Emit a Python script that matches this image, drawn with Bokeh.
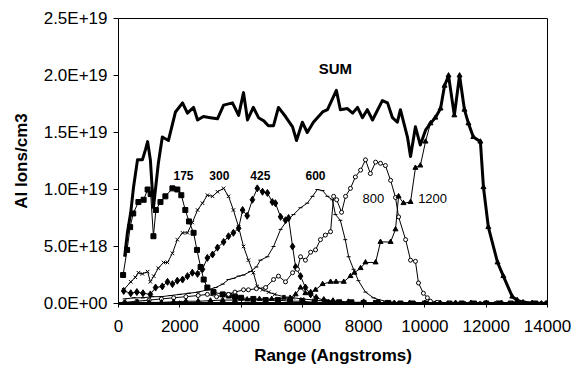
from bokeh.plotting import figure
from bokeh.models import Range1d, FixedTicker
from bokeh.core.properties import value
from bokeh.embed import file_html
from bokeh.resources import INLINE

# ---------------- data (units of 1E+18 ions/cm3) ----------------
X_TICKS = [0, 2000, 4000, 6000, 8000, 10000, 12000, 14000]
Y_TICKS = [0, 5, 10, 15, 20, 25]
Y_TICK_LABELS = ["0.0E+00", "5.0E+18", "1.0E+19", "1.5E+19", "2.0E+19", "2.5E+19"]

S175_X = [150, 280, 380, 480, 650, 820, 950, 1050, 1140, 1220, 1370, 1530, 1760, 1920,
          2050, 2180, 2300, 2450, 2560, 2680, 2780, 2900, 3100, 3400, 3600, 3800, 4000,
          4400, 4800, 5200, 5600, 6000, 6400, 6800, 7200, 7600, 8000, 8400, 8800, 9200,
          9600, 10000, 10400, 10800, 11200, 11600, 12000, 12400, 12800, 13200, 13600, 14000]
S175_Y = [2.5, 4.7, 6.7, 7.9, 8.9, 9.1, 10.0, 9.6, 5.9, 8.2, 8.9, 9.4, 10.1, 10.0,
          9.5, 8.2, 7.2, 6.2, 4.7, 3.2, 2.1, 1.4, 1.0, 0.8, 0.7, 0.6, 0.5,
          0.4, 0.3, 0.3, 0.2, 0.2, 0.1, 0.1, 0.1, 0.1, 0.05, 0.05, 0.05, 0.0,
          0.0, 0.0, 0.0, 0.0, 0.0, 0.0, 0.0, 0.0, 0.0, 0.0, 0.0, 0.0]

S300_X = [170, 400, 550, 650, 780, 950, 1040, 1150, 1300, 1470, 1600, 1760, 1920, 2090,
          2250, 2410, 2580, 2740, 2900, 3070, 3230, 3430, 3590, 3750, 3920, 4080, 4240,
          4400, 4530, 4700, 4900, 5100, 5400, 5700, 6000, 6400, 6800, 7200, 7600, 8000,
          8400, 8800, 9200, 9600, 10000, 10500, 11000, 11500, 12000, 12500, 13000, 13500, 14000]
S300_Y = [1.2, 1.9, 2.3, 2.7, 2.6, 2.8, 1.9, 2.4, 3.1, 3.6, 3.6, 4.4, 5.6, 6.2,
          6.2, 7.1, 8.2, 8.8, 9.5, 9.4, 9.8, 10.1, 9.4, 8.2, 6.7, 5.0, 3.8,
          2.7, 1.5, 1.2, 1.0, 0.8, 0.6, 0.5, 0.4, 0.3, 0.2, 0.2, 0.1, 0.1,
          0.05, 0.05, 0, 0, 0, 0, 0, 0, 0, 0, 0, 0, 0]

S425_X = [170, 400, 600, 800, 1040, 1210, 1430, 1600, 1760, 1920, 2090, 2250, 2410, 2580,
          2740, 2900, 3070, 3230, 3430, 3590, 3750, 3920, 4050, 4200, 4370, 4530, 4700,
          4860, 5020, 5120, 5290, 5450, 5550, 5680, 5780, 5940, 6100, 6270, 6450, 6700,
          7000, 7500, 8000, 8500, 9000, 9500, 10000, 10500, 11000, 11500, 12000, 12500,
          13000, 13500, 14000]
S425_Y = [1.1, 0.9, 1.0, 0.9, 0.8, 1.4, 1.5, 1.9, 1.7, 2.0, 2.1, 2.4, 2.7, 2.6,
          3.0, 4.0, 4.3, 4.9, 5.4, 5.9, 6.2, 6.6, 8.2, 7.7, 9.1, 10.1, 9.8,
          9.7, 8.9, 8.8, 7.6, 7.3, 7.5, 5.0, 3.2, 2.4, 1.4, 0.8, 0.5, 0.3,
          0.2, 0.1, 0.1, 0.05, 0, 0, 0, 0, 0, 0, 0, 0,
          0, 0, 0]

S600_X = [200, 500, 800, 1100, 1400, 1700, 2000, 2300, 2600, 2900, 3170, 3400, 3590, 3750,
          3920, 4080, 4300, 4500, 4630, 4860, 5060, 5290, 5510, 5710, 5940, 6160, 6330,
          6490, 6660, 6820, 6980, 7080, 7240, 7400, 7510, 7670, 7830, 8060, 8320, 8480,
          8700, 9000, 9500, 10000, 10500, 11000, 11500, 12000, 12500, 13000, 13500, 14000]
S600_Y = [0.4, 0.5, 0.5, 0.6, 0.6, 0.7, 0.8, 0.9, 1.0, 1.2, 1.4, 1.7, 2.1, 2.2,
          2.4, 2.5, 2.8, 3.2, 3.8, 4.1, 5.0, 6.5, 7.3, 7.8, 8.4, 8.8, 9.4,
          10.0, 9.9, 9.4, 9.1, 7.8, 7.3, 5.6, 4.1, 3.0, 2.0, 1.0, 0.5, 0.35,
          0.2, 0.1, 0.05, 0, 0, 0, 0, 0, 0, 0, 0, 0]

S800_X = [200, 600, 1000, 1400, 1800, 2200, 2600, 2900, 3200, 3590, 3800, 4080, 4240, 4500,
          4800, 5060, 5220, 5450, 5680, 5840, 5940, 6100, 6270, 6430, 6590, 6750, 6920,
          7020, 7120, 7280, 7410, 7570, 7730, 7900, 8060, 8220, 8390, 8550, 8710, 8880,
          9040, 9140, 9370, 9530, 9690, 9790, 9950, 10080, 10180, 10400, 10800, 11300,
          11800, 12300, 12800, 13300, 13800, 14000]
S800_Y = [0.1, 0.2, 0.3, 0.4, 0.5, 0.6, 0.7, 0.8, 0.6, 0.8, 1.0, 1.2, 1.2, 1.3,
          1.4, 2.1, 2.4, 1.9, 2.7, 3.0, 4.1, 3.8, 4.5, 4.7, 5.6, 6.0, 6.3,
          9.4, 9.1, 8.0, 9.4, 10.1, 11.1, 11.7, 12.6, 11.4, 12.4, 12.3, 12.1, 10.8,
          9.3, 7.6, 5.6, 3.8, 3.7, 1.8, 0.9, 0.5, 0.2, 0.1, 0, 0,
          0, 0, 0, 0, 0, 0]

S1200_X = [200, 600, 1000, 1400, 1800, 2200, 2600, 3000, 3400, 3800, 4200, 4600, 5000,
           5400, 5600, 5780, 5940, 6100, 6270, 6430, 6660, 6920, 7100, 7350, 7570, 7700,
           7900, 8060, 8390, 8550, 8880, 9040, 9140, 9300, 9530, 9690, 9850, 10020, 10180,
           10340, 10510, 10640, 10770, 10960, 11130, 11290, 11420, 11580, 11810, 11910,
           12070, 12370, 12560, 12850, 13010, 13200, 13500, 13800, 14000]
S1200_Y = [0.05, 0.1, 0.1, 0.1, 0.15, 0.2, 0.2, 0.25, 0.3, 0.3, 0.35, 0.4, 0.4,
           0.5, 0.5, 0.8, 1.4, 0.9, 1.0, 1.2, 1.7, 1.9, 1.9, 1.9, 2.4, 2.7,
           3.1, 3.6, 3.6, 5.4, 5.4, 6.5, 9.4, 8.8, 8.9, 11.9, 12.1, 14.2, 15.8,
           16.3, 17.1, 19.1, 20.0, 16.5, 20.0, 17.0, 15.8, 14.6, 14.2, 10.2,
           6.7, 3.6, 2.4, 0.6, 0.3, 0.1, 0, 0, 0]

SUM_X = [200, 290, 400, 490, 620, 780, 880, 950, 1040, 1140, 1300, 1430, 1630, 1860, 2090,
         2250, 2450, 2580, 2770, 3000, 3230, 3430, 3720, 3920, 4080, 4210, 4400, 4570, 4750,
         4890, 5060, 5220, 5450, 5680, 5810, 6000, 6160, 6360, 6660, 6820, 7110, 7240, 7470,
         7640, 7800, 7960, 8120, 8290, 8610, 8780, 8940, 9100, 9200, 9430, 9530, 9690, 9850,
         10020, 10180, 10340, 10510, 10640, 10770, 10960, 11130, 11290, 11420, 11580, 11810,
         11910, 12070, 12370, 12560, 12850, 13010, 13200, 13500, 14000]
SUM_Y = [4.1, 6.2, 8.0, 10.2, 12.6, 12.6, 13.5, 14.2, 12.6, 8.4, 12.3, 14.6, 14.3, 16.8, 17.6,
         16.7, 17.2, 16.1, 16.4, 16.3, 16.2, 17.4, 17.6, 16.5, 18.5, 16.1, 17.2, 16.3, 16.0,
         15.6, 15.6, 17.2, 16.4, 15.5, 14.3, 15.9, 15.0, 15.9, 16.8, 17.0, 18.7, 17.0, 17.1,
         16.7, 17.2, 16.3, 17.0, 16.1, 17.8, 17.6, 16.3, 15.9, 17.0, 14.6, 12.9, 15.5, 13.9,
         15.2, 15.8, 16.3, 17.1, 19.1, 20.0, 16.5, 20.0, 17.0, 15.8, 14.6, 14.2,
         10.2, 6.7, 3.6, 2.4, 0.6, 0.3, 0.1, 0.05, 0]

LABELS = ["175", "300", "425", "600", "800", "1200", "SUM"]

# ---------------- layout / style ----------------
FONT = "Liberation Sans"
LABEL_X = [2120, 3290, 4630, 6430, 8320, 10250, 7080]
LABEL_Y = [11.2, 11.2, 11.2, 11.2, 9.2, 9.2, 20.6]
LABEL_BOLD = [True, True, True, True, False, False, True]
LABEL_SIZE = ["12px", "12px", "12px", "12px", "13px", "13px", "15px"]

p = figure(width=575, height=367, output_backend="svg", toolbar_location=None,
           x_range=Range1d(0, 14000), y_range=Range1d(0, 25),
           min_border_left=118, min_border_right=28, min_border_top=18,
           min_border_bottom=63)
p.background_fill_color = "white"
p.border_fill_color = "white"
p.outline_line_color = "black"
p.outline_line_width = 1
p.xgrid.visible = False
p.ygrid.visible = False

series = [
    (S175_X, S175_Y, "square", 5, "black"),
    (S300_X, S300_Y, "x", 5, "black"),
    (S425_X, S425_Y, "diamond", 7, "black"),
    (S600_X, S600_Y, "dash", 4, "black"),
    (S800_X, S800_Y, "circle", 4, "white"),
    (S1200_X, S1200_Y, "triangle", 5, "black"),
]
for xs, ys, mk, sz, fill in series:
    p.line(xs, ys, line_color="black", line_width=1)
    p.scatter(xs, ys, marker=mk, size=sz, line_color="black", fill_color=fill,
              line_width=1)

p.line(SUM_X, SUM_Y, line_color="black", line_width=3, line_join="round")

for i, t in enumerate(LABELS):
    p.text(x=[LABEL_X[i]], y=[LABEL_Y[i]], text=[t], text_font=value(FONT),
           text_font_size=LABEL_SIZE[i],
           text_font_style="bold" if LABEL_BOLD[i] else "normal",
           text_align="center", text_baseline="middle", text_color="black")

p.xaxis.ticker = FixedTicker(ticks=X_TICKS)
p.yaxis.ticker = FixedTicker(ticks=Y_TICKS)
p.yaxis.major_label_overrides = {t: l for t, l in zip(Y_TICKS, Y_TICK_LABELS)}
p.xaxis.minor_tick_line_color = None
p.yaxis.minor_tick_line_color = None
for ax in (p.xaxis, p.yaxis):
    ax.axis_line_color = "black"
    ax.major_tick_line_color = "black"
    ax.major_label_text_font = FONT
    ax.major_label_text_font_size = "17px"
    ax.major_label_text_color = "black"
    ax.axis_label_text_font = FONT
    ax.axis_label_text_font_size = "17px"
    ax.axis_label_text_font_style = "bold"
    ax.axis_label_text_color = "black"
p.xaxis.axis_line_width = 3
p.xaxis.major_tick_in = 3
p.xaxis.major_tick_out = 4
p.yaxis.major_tick_in = 0
p.yaxis.major_tick_out = 5
p.xaxis.major_label_standoff = 12
p.yaxis.major_label_standoff = 6
p.xaxis.axis_label = "Range (Angstroms)"
p.yaxis.axis_label = "Al Ions/cm3"
p.xaxis.axis_label_standoff = 11
p.yaxis.axis_label_standoff = 10

open("out.html", "w").write(file_html(p, INLINE))
